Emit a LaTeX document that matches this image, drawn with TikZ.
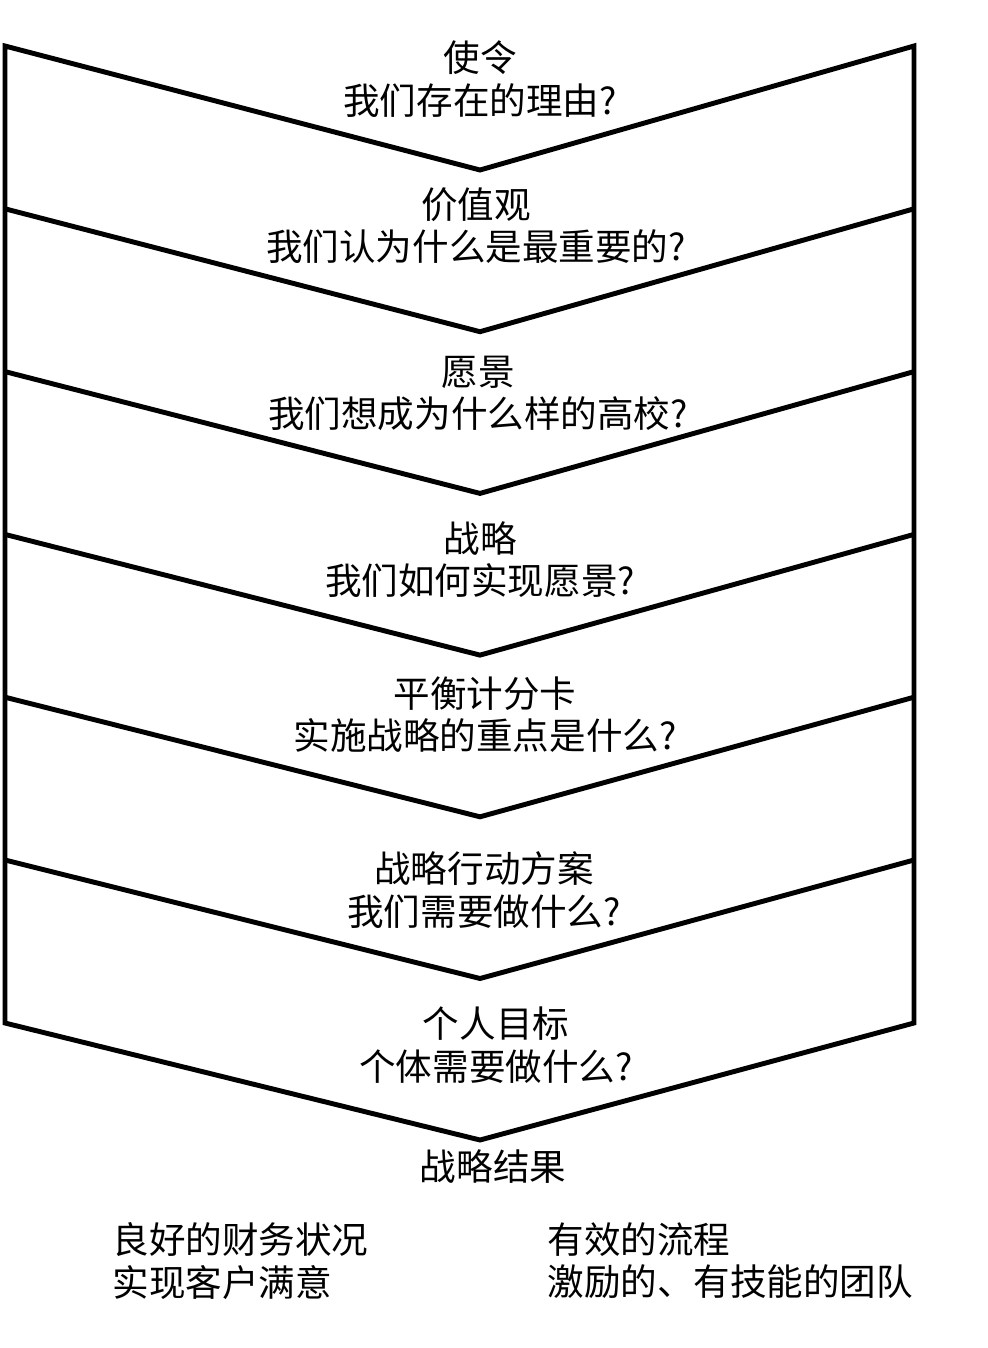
\documentclass[tikz,border=0pt]{standalone}
\usepackage{fontspec}
\newfontfamily\cjk{Noto Sans CJK SC}
\usepackage{tikz}

\begin{document}
\begin{tikzpicture}[x=0.025cm,y=-0.025cm,line width=3.5pt,
  stufe/.style={align=center,inner sep=0pt,font=\cjk\fontsize{26}{30}\selectfont},
  liste/.style={align=left,anchor=west,inner sep=0pt,font=\cjk\fontsize{26}{30}\selectfont}]
  \useasboundingbox (0,0) rectangle (987,1348);
  % outer frame
  \draw[line join=miter] (480,170) -- (5,46) -- (5,1023) -- (480,1140) -- (914,1023) -- (914,46) -- cycle;
  \foreach \i in {1,...,5}
    \draw (5,46+162.8*\i) -- (480,170+161.7*\i) -- (914,46+162.8*\i);
  \node[stufe] (mission) at (480,79) {使令\\我们存在的理由?};
  \node[stufe] (values) at (476,226) {价值观\\我们认为什么是最重要的?};
  \node[stufe] (vision) at (478,393) {愿景\\我们想成为什么样的高校?};
  \node[stufe] (strategy) at (480,560) {战略\\我们如何实现愿景?};
  \node[stufe] (scorecard) at (485,715) {平衡计分卡\\实施战略的重点是什么?};
  \node[stufe] (actions) at (484,890) {战略行动方案\\我们需要做什么?};
  \node[stufe] (goals) at (496,1045) {个人目标\\个体需要做什么?};
  \node[stufe] (result) at (493,1167) {战略结果};
  \node[liste] (left) at (110,1261) {良好的财务状况\\实现客户满意};
  \node[liste] (right) at (545,1261) {有效的流程\\激励的、有技能的团队};
\end{tikzpicture}
\end{document}
